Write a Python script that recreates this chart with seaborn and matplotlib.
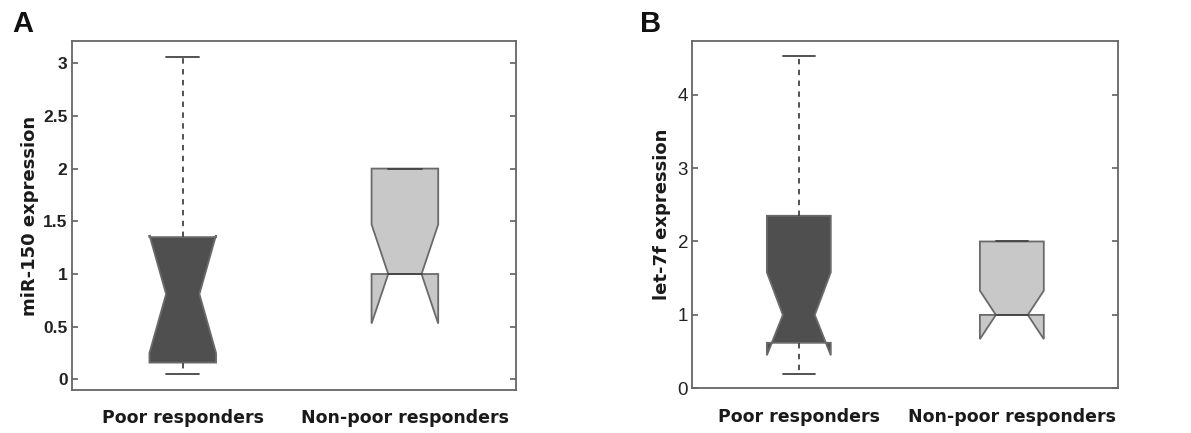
import matplotlib
matplotlib.use("Agg")
import matplotlib.pyplot as plt
import seaborn as sns

sns.set_theme(style="white")
plt.rcParams['font.family'] = ['Liberation Sans', 'DejaVu Sans']

groups = ["Poor responders", "Non-poor responders"]

# Panel A: miR-150 expression (q1, median, q3, whisker low, whisker high, notch low, notch high)
a_q1 = [0.16, 1.00]
a_med = [0.81, 1.00]
a_q3 = [1.35, 2.00]
a_wlo = [0.05, 1.00]
a_whi = [3.06, 2.00]
a_cilo = [0.25, 0.53]
a_cihi = [1.37, 1.47]

# Panel B: let-7f expression
b_q1 = [0.62, 1.00]
b_med = [1.00, 1.00]
b_q3 = [2.35, 2.00]
b_wlo = [0.19, 1.00]
b_whi = [4.52, 2.00]
b_cilo = [0.45, 0.67]
b_cihi = [1.58, 1.33]

fills = ["#4f4f4f", "#c8c8c8"]
edge = "#6a6a6a"
wide_font = ["DejaVu Sans"]

fig = plt.figure(figsize=(11.91, 4.33), dpi=100)
axA = fig.add_axes([0.0602, 0.0993, 0.373, 0.806])
axB = fig.add_axes([0.5813, 0.1032, 0.3577, 0.802])


def draw(ax, q1, med, q3, wlo, whi, cilo, cihi, ylim, yticks, yticklabels, ylabel,
         tick_weight, tick_size, lpad):
    stats = []
    for i in range(len(groups)):
        stats.append(dict(label=groups[i], q1=q1[i], med=med[i], q3=q3[i],
                          whislo=wlo[i], whishi=whi[i], cilo=cilo[i], cihi=cihi[i],
                          fliers=[]))
    res = ax.bxp(stats, positions=[1, 2], widths=0.3, shownotches=True, patch_artist=True,
                 showfliers=False,
                 boxprops=dict(edgecolor=edge, linewidth=1.3),
                 whiskerprops=dict(color="#444444", linestyle=(0, (3, 3)), linewidth=1.3),
                 capprops=dict(color="#444444", linewidth=1.3),
                 medianprops=dict(linewidth=0))
    for patch, c in zip(res["boxes"], fills):
        patch.set_facecolor(c)
    ax.set_xlim(0.5, 2.5)
    ax.set_ylim(*ylim)
    ax.set_yticks(yticks)
    ax.set_yticklabels(yticklabels, fontsize=tick_size, fontweight=tick_weight, color="#222222")
    ax.set_xticks([1, 2])
    ax.set_xticklabels(groups, fontsize=12.5, fontweight="bold", color="#1a1a1a",
                       family=wide_font)
    ax.set_ylabel(ylabel, fontsize=13, fontweight="bold", color="#1a1a1a",
                  family=wide_font, labelpad=lpad)
    ax.tick_params(axis="y", direction="in", length=4, right=True, left=True,
                   color="#666666", pad=3)
    ax.tick_params(axis="x", length=0, pad=14)
    for s in ax.spines.values():
        s.set_color("#666666")
        s.set_linewidth(1.3)


draw(axA, a_q1, a_med, a_q3, a_wlo, a_whi, a_cilo, a_cihi, (-0.1, 3.21),
     [0, 0.5, 1, 1.5, 2, 2.5, 3], ["0", "0.5", "1", "1.5", "2", "2.5", "3"],
     "miR-150 expression", "bold", 12.5, 3)
draw(axB, b_q1, b_med, b_q3, b_wlo, b_whi, b_cilo, b_cihi, (0, 4.73),
     [0, 1, 2, 3, 4], ["0", "1", "2", "3", "4"], "let-7f expression", "normal", 13.5, 5)

fig.text(0.010, 0.925, "A", fontsize=21, fontweight="bold", color="#111111")
fig.text(0.537, 0.925, "B", fontsize=21, fontweight="bold", color="#111111")

fig.savefig("out.png", dpi=100, facecolor="white")
